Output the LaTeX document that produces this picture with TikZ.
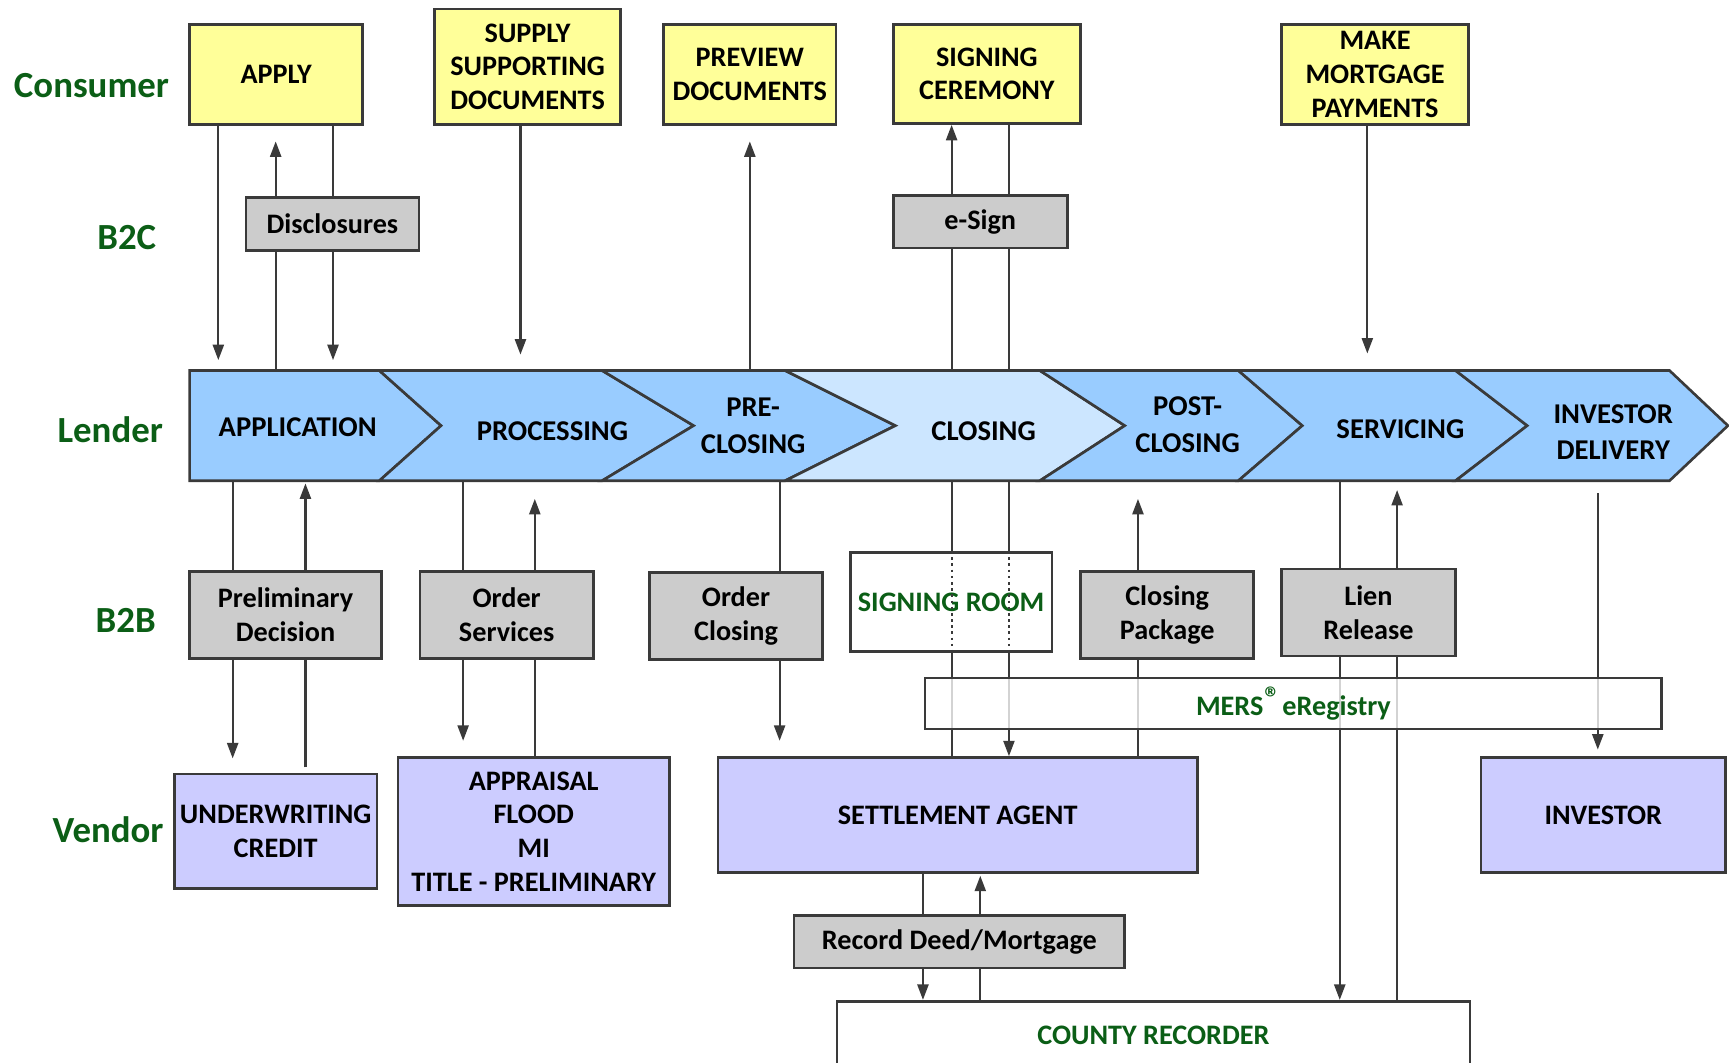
\documentclass[tikz,border=0pt]{standalone}
\usepackage{fontspec}
\setmainfont{Carlito}
\usetikzlibrary{fit,arrows.meta}
\definecolor{ylw}{HTML}{FFFF99}
\definecolor{gry}{HTML}{CCCCCC}
\definecolor{lav}{HTML}{CCCCFF}
\definecolor{blu}{HTML}{99CCFF}
\definecolor{lblu}{HTML}{CCE6FF}
\definecolor{edge}{HTML}{3A3A3A}
\definecolor{grn}{HTML}{0B5E16}
\begin{document}
\begin{tikzpicture}[x=0.5pt,y=-0.5pt,
 base/.style={draw=edge, line width=1.2pt, inner sep=0pt, align=center, font=\fontsize{12.8}{15.3}\selectfont\bfseries, text=black},
 ybox/.style={base, fill=ylw},
 gbox/.style={base, fill=gry},
 vbox/.style={base, fill=lav},
 wbox/.style={base, fill=white, text=grn},
 rowlabel/.style={font=\fontsize{16.7}{20}\selectfont\bfseries, text=grn},
 seg/.style={draw=edge, line width=1.2pt, line join=miter},
 segtext/.style={align=center, font=\fontsize{13}{16.5}\selectfont\bfseries},
 conn/.style={draw=edge, line width=1pt},
 arr/.style={conn, -{Triangle[length=7pt,width=5pt]}},
 dotl/.style={draw=edge, line width=0.8pt, dash pattern=on 1.2pt off 1.6pt},
]
\useasboundingbox (0,0) rectangle (1568,964);

% row labels
\node[rowlabel] (lcons) at (83,78) {Consumer};
\node[rowlabel] (lb2c) at (115,215) {B2C};
\node[rowlabel] (llend) at (100,390) {Lender};
\node[rowlabel] (lb2b) at (114,563) {B2B};
\node[rowlabel] (lvend) at (98,752) {Vendor};

% lender chevron strip
\path[seg, fill=blu] (172,336) -- (344,336) -- (400,386) -- (344,436) -- (172,436) -- cycle;
\path[seg, fill=blu] (344,336) -- (546,336) -- (629,386) -- (546,436) -- (344,436) -- (400,386) -- cycle;
\path[seg, fill=blu] (546,336) -- (712,336) -- (812,386) -- (712,436) -- (546,436) -- (629,386) -- cycle;
\path[seg, fill=lblu] (712,336) -- (943,336) -- (1020,386) -- (943,436) -- (712,436) -- (812,386) -- cycle;
\path[seg, fill=blu] (943,336) -- (1123,336) -- (1181,386) -- (1123,436) -- (943,436) -- (1020,386) -- cycle;
\path[seg, fill=blu] (1123,336) -- (1320,336) -- (1385,386) -- (1320,436) -- (1123,436) -- (1181,386) -- cycle;
\path[seg, fill=blu] (1320,336) -- (1514,336) -- (1567,386) -- (1514,436) -- (1320,436) -- (1385,386) -- cycle;
\node[fit={(172,336) (1567,436)}, inner sep=0pt] (strip) {};

\node[segtext] (sapp) at (270,387) {APPLICATION};
\node[segtext] (sproc) at (501,391) {PROCESSING};
\node[segtext] (spre) at (683,386) {PRE-\\CLOSING};
\node[segtext] (sclo) at (892,391) {CLOSING};
\node[segtext] (spost) at (1077,385) {POST-\\CLOSING};
\node[segtext] (sserv) at (1270,389) {SERVICING};
\node[segtext] (sinv) at (1463,392) {INVESTOR\\DELIVERY};

% consumer row
\node[ybox, minimum width=78.5pt, minimum height=45.5pt] (apply) at (250.5,67.5) {APPLY};
\node[ybox, minimum width=84.5pt, minimum height=52.5pt] (supply) at (478.5,60.5) {SUPPLY\\SUPPORTING\\DOCUMENTS};
\node[ybox, minimum width=78pt, minimum height=45.5pt] (preview) at (680,67.5) {PREVIEW\\DOCUMENTS};
\node[ybox, minimum width=85pt, minimum height=45pt] (ceremony) at (895,67) {SIGNING\\CEREMONY};
\node[ybox, minimum width=85pt, minimum height=45.5pt] (make) at (1247,67.5) {MAKE\\MORTGAGE\\PAYMENTS};

% B2C row
\node[gbox, minimum width=78.5pt, minimum height=24pt] (disc) at (301.5,203) {Disclosures};
\node[gbox, minimum width=79pt, minimum height=24pt] (esign) at (889,201) {e-Sign};

% B2B row
\node[gbox, minimum width=87pt, minimum height=39.5pt] (prelim) at (259,557.5) {Preliminary\\Decision};
\node[gbox, minimum width=78.5pt, minimum height=39.5pt] (ordsvc) at (459.5,557.5) {Order\\Services};
\node[gbox, minimum width=78.5pt, minimum height=39.5pt] (ordclo) at (667.5,558.5) {Order\\Closing};
\node[gbox, minimum width=78.5pt, minimum height=39.5pt] (clopkg) at (1058.5,557.5) {Closing\\Package};
\node[gbox, minimum width=79pt, minimum height=39.5pt] (lien) at (1241,555.5) {Lien\\Release};

% vendor row
\node[vbox, minimum width=92pt, minimum height=52pt] (uw) at (250,754) {UNDERWRITING\\CREDIT};
\node[vbox, minimum width=123pt, minimum height=67pt] (appr) at (484,754) {APPRAISAL\\FLOOD\\MI\\TITLE - PRELIMINARY};
\node[vbox, minimum width=217.5pt, minimum height=52pt] (settle) at (868.5,739) {SETTLEMENT AGENT};
\node[vbox, minimum width=111pt, minimum height=52pt] (investor) at (1454,739) {INVESTOR};
\node[gbox, minimum width=150pt, minimum height=24pt] (record) at (870,854) {Record Deed/Mortgage};
\node[wbox, minimum width=287pt, minimum height=31pt] (county) at (1046,939) {COUNTY RECORDER};

% connectors above the strip
\draw[arr, shorten >=4.5pt] (198,0 |- apply.south) -- (198,0 |- strip.north);
\draw[conn] (250,0 |- strip.north) -- (250,0 |- disc.south);
\draw[arr, shorten >=7pt] (250,0 |- disc.north) -- (250,0 |- apply.south);
\draw[conn] (302,0 |- apply.south) -- (302,0 |- disc.north);
\draw[arr, shorten >=4.5pt] (302,0 |- disc.south) -- (302,0 |- strip.north);
\draw[arr, shorten >=7pt] (472,0 |- supply.south) -- (472,0 |- strip.north);
\draw[arr, shorten >=7pt] (680,0 |- strip.north) -- (680,0 |- preview.south);
\draw[conn] (863,0 |- strip.north) -- (863,0 |- esign.south);
\draw[arr] (863,0 |- esign.north) -- (863,0 |- ceremony.south);
\draw[conn] (915,0 |- ceremony.south) -- (915,0 |- esign.north);
\draw[conn] (915,0 |- esign.south) -- (915,0 |- strip.north);
\draw[arr, shorten >=7.5pt] (1240,0 |- make.south) -- (1240,0 |- strip.north);

% connectors below the strip
\draw[conn] (211,0 |- strip.south) -- (211,0 |- prelim.north);
\draw[arr, shorten >=6.5pt] (211,0 |- prelim.south) -- (211,0 |- uw.north);
\draw[conn, shorten <=2.5pt] (277,0 |- uw.north) -- (277,0 |- prelim.south);
\draw[arr, shorten >=1pt] (277,0 |- prelim.north) -- (277,0 |- strip.south);
\draw[conn] (420,0 |- strip.south) -- (420,0 |- ordsvc.north);
\draw[arr, shorten >=7pt] (420,0 |- ordsvc.south) -- (420,0 |- appr.north);
\draw[conn] (485,0 |- appr.north) -- (485,0 |- ordsvc.south);
\draw[arr, shorten >=8pt] (485,0 |- ordsvc.north) -- (485,0 |- strip.south);
\draw[conn] (707,0 |- strip.south) -- (707,0 |- ordclo.north);
\draw[arr, shorten >=7pt] (707,0 |- ordclo.south) -- (707,0 |- settle.north);
\draw[conn] (863,0 |- strip.south) -- (863,0 |- settle.north);
\draw[arr] (915,0 |- strip.south) -- (915,0 |- settle.north);
\draw[conn] (1032,0 |- settle.north) -- (1032,0 |- clopkg.south);
\draw[arr, shorten >=8pt] (1032,0 |- clopkg.north) -- (1032,0 |- strip.south);
\draw[conn] (1215,0 |- strip.south) -- (1215,0 |- lien.north);
\draw[arr] (1215,0 |- lien.south) -- (1215,0 |- county.north);
\draw[conn] (1267,0 |- county.north) -- (1267,0 |- lien.south);
\draw[arr, shorten >=4pt] (1267,0 |- lien.north) -- (1267,0 |- strip.south);
\draw[arr, shorten <=5.5pt, shorten >=3pt] (1449,0 |- strip.south) -- (1449,0 |- investor.north);
\draw[conn] (837,0 |- settle.south) -- (837,0 |- record.north);
\draw[arr] (837,0 |- record.south) -- (837,0 |- county.north);
\draw[conn] (889,0 |- county.north) -- (889,0 |- record.south);
\draw[arr, shorten >=1pt] (889,0 |- record.north) -- (889,0 |- settle.south);

% overlays
\node[wbox, minimum width=91.5pt, minimum height=45pt] (sroom) at (862.5,546) {SIGNING ROOM};
\draw[dotl] (863,0 |- sroom.north) -- (863,0 |- sroom.south);
\draw[dotl] (915,0 |- sroom.north) -- (915,0 |- sroom.south);
\node[base, fill=white, fill opacity=0.78, text opacity=1, text=grn, minimum width=334pt, minimum height=23pt] (mers) at (1173,638) {MERS\kern0.5pt{\fontsize{14}{14}\selectfont\raisebox{3pt}{®}}\kern1pt eRegistry};
\end{tikzpicture}
\end{document}
